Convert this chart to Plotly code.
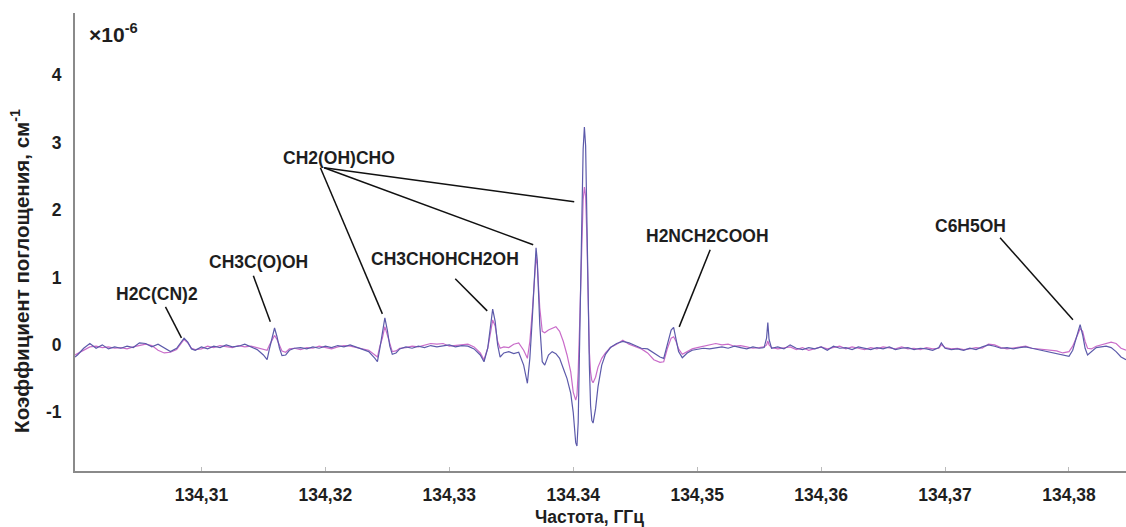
import plotly.graph_objects as go

# Frequency, GHz
freq = [
    134.2998, 134.3000, 134.3005, 134.3010, 134.3015, 134.3020, 134.3025, 134.3030, 134.3035, 134.3040,
    134.3045, 134.3050, 134.3055, 134.3060, 134.3065, 134.3070, 134.3075, 134.3080,
    134.3083, 134.3086, 134.3089, 134.3092, 134.3095,
    134.3100, 134.3105, 134.3110, 134.3115, 134.3120, 134.3125, 134.3130, 134.3135, 134.3140, 134.3145, 134.3150,
    134.3153, 134.3155, 134.3157, 134.3159, 134.3161, 134.3163, 134.3165, 134.3168, 134.3171,
    134.3175, 134.3180, 134.3185, 134.3190, 134.3195, 134.3200, 134.3205, 134.3210, 134.3215, 134.3220, 134.3225, 134.3230, 134.3235,
    134.3240, 134.3242, 134.3244, 134.3246, 134.3248, 134.3250, 134.3252, 134.3254, 134.3257, 134.3260,
    134.3265, 134.3270, 134.3275, 134.3280, 134.3285, 134.3290, 134.3295, 134.3300, 134.3305, 134.3310, 134.3315, 134.3320, 134.3325,
    134.3328, 134.3331, 134.3333, 134.3335, 134.3337, 134.3339, 134.3341, 134.3344, 134.3348, 134.3352,
    134.3356, 134.3360, 134.3363, 134.3365, 134.3367, 134.3369, 134.3370, 134.3371, 134.3373, 134.3375,
    134.3377, 134.3380, 134.3383, 134.3386, 134.3389, 134.3392, 134.3395, 134.3398, 134.3400, 134.3402,
    134.3403, 134.3404, 134.3405, 134.3406, 134.3407, 134.3408, 134.3409, 134.3410, 134.3411, 134.3412,
    134.3413, 134.3414, 134.3415, 134.3416, 134.3418, 134.3420, 134.3423, 134.3426, 134.3430,
    134.3435, 134.3440, 134.3445, 134.3450, 134.3455, 134.3460, 134.3465, 134.3470,
    134.3473, 134.3476, 134.3479, 134.3481, 134.3483, 134.3485, 134.3488, 134.3492, 134.3496,
    134.3500, 134.3505, 134.3510, 134.3515, 134.3520, 134.3525, 134.3530, 134.3535, 134.3540, 134.3545, 134.3550, 134.3554,
    134.3556, 134.3557, 134.3558,
    134.3560, 134.3565, 134.3570, 134.3575, 134.3580, 134.3585, 134.3590, 134.3595, 134.3600, 134.3605,
    134.3610, 134.3615, 134.3620, 134.3625, 134.3630, 134.3635, 134.3640, 134.3645, 134.3650, 134.3655,
    134.3660, 134.3665, 134.3670, 134.3675, 134.3680, 134.3685, 134.3690, 134.3695,
    134.3697,
    134.3700, 134.3705, 134.3710, 134.3715, 134.3720, 134.3725, 134.3730, 134.3735, 134.3740, 134.3745,
    134.3750, 134.3755, 134.3760, 134.3765, 134.3770, 134.3775, 134.3780, 134.3785, 134.3790, 134.3795, 134.3800,
    134.3803, 134.3806, 134.3809, 134.3811, 134.3813, 134.3815, 134.3818, 134.3822, 134.3826, 134.3830,
    134.3834, 134.3838, 134.3842, 134.3846,
]

# Absorption coefficient, x1e-6 cm^-1 (blue spectrum)
absorb_blue = [
    -0.18, -0.15, -0.05, 0.02, -0.05, 0.00, -0.06, -0.03, -0.05, -0.02,
    -0.04, 0.03, 0.02, -0.03, 0.01, -0.04, -0.10, -0.05,
    0.03, 0.10, 0.04, -0.06, -0.08,
    -0.03, -0.06, -0.02, -0.04, 0.00, -0.03, -0.02, 0.01, -0.03, -0.07, -0.15,
    -0.22, -0.05, 0.12, 0.25, 0.12, -0.05, -0.16, -0.15, -0.08,
    -0.05, -0.04, -0.06, -0.03, -0.05, -0.02, -0.04, -0.01, -0.03, 0.00, -0.03, -0.07, -0.10,
    -0.20, -0.25, -0.05, 0.15, 0.40, 0.22, -0.02, -0.14, -0.12, -0.06,
    -0.03, -0.05, -0.02, -0.04, -0.01, -0.03, -0.02, 0.00, -0.03, -0.01, -0.02, -0.06, -0.15,
    -0.25, -0.05, 0.25, 0.53, 0.35, 0.00, -0.18, -0.12, -0.10, -0.13,
    -0.11, -0.30, -0.57, -0.20, 0.40, 1.25, 1.44, 1.25, 0.30, -0.25,
    -0.30, -0.15, -0.10, -0.13, -0.20, -0.35, -0.50, -0.72, -1.00, -1.45,
    -1.50, -1.15, -0.30, 0.80, 1.90, 2.90, 3.23, 2.95, 2.10, 0.80,
    -0.30, -0.90, -1.12, -1.16, -0.95, -0.62, -0.30, -0.14, -0.04,
    0.02, 0.05, 0.03, -0.01, -0.05, -0.06, -0.12, -0.18,
    -0.20, 0.00, 0.22, 0.26, 0.10, -0.10, -0.19, -0.12, -0.08,
    -0.07, -0.05, -0.06, -0.04, -0.03, -0.05, -0.02, -0.04, -0.06, -0.03, -0.05, -0.04,
    0.10, 0.33, 0.08,
    -0.05, -0.03, -0.06, 0.00, -0.05, -0.07, -0.04, -0.06, -0.03, -0.08,
    -0.02, -0.05, -0.04, -0.07, -0.03, -0.05, -0.07, -0.04, -0.06, -0.03,
    -0.07, -0.05, -0.04, -0.07, -0.05, -0.06, -0.08, -0.04,
    0.03,
    -0.05, -0.07, -0.06, -0.08, -0.05, -0.07, -0.03, 0.00, -0.02, -0.05,
    -0.04, -0.06, -0.04, -0.03, -0.05, -0.07, -0.08, -0.10, -0.12, -0.14, -0.17,
    -0.08, 0.12, 0.30, 0.15, -0.05, -0.15, -0.10, -0.04, -0.03, -0.02,
    -0.04, -0.10, -0.18, -0.22,
]

# Absorption coefficient, x1e-6 cm^-1 (pink spectrum)
absorb_pink = [
    -0.15, -0.13, -0.08, -0.03, -0.02, -0.04, -0.03, -0.05, -0.04, -0.06,
    -0.03, -0.01, 0.01, -0.01, -0.08, -0.12, -0.11, -0.07,
    0.00, 0.08, 0.03, -0.05, -0.07,
    -0.06, -0.02, -0.04, -0.01, -0.03, -0.04, -0.01, -0.03, -0.02, -0.04, -0.06,
    -0.08, 0.00, 0.08, 0.14, 0.08, -0.02, -0.09, -0.11, -0.06,
    -0.05, -0.07, -0.04, -0.05, -0.02, -0.04, -0.06, -0.03, -0.01, -0.02, -0.04, -0.05, -0.08,
    -0.15, -0.18, -0.02, 0.10, 0.27, 0.15, 0.00, -0.10, -0.09, -0.05,
    -0.04, -0.02, -0.03, 0.00, 0.02, 0.01, 0.02, -0.02, -0.01, 0.00, 0.01, -0.03, -0.12,
    -0.22, -0.05, 0.15, 0.37, 0.28, 0.05, -0.05, -0.03, -0.04, 0.01,
    0.03, -0.08, -0.20, 0.05, 0.50, 1.15, 1.31, 1.18, 0.55, 0.20,
    0.18, 0.22, 0.24, 0.27, 0.20, 0.05, -0.15, -0.40, -0.70, -0.82,
    -0.75, -0.40, 0.20, 0.95, 1.60, 2.15, 2.34, 2.20, 1.60, 0.60,
    -0.10, -0.40, -0.53, -0.56, -0.48, -0.33, -0.20, -0.12, -0.04,
    0.01, 0.07, 0.01, -0.03, -0.06, -0.12, -0.22, -0.26,
    -0.25, -0.05, 0.10, 0.12, 0.05, -0.06, -0.14, -0.10, -0.06,
    -0.04, -0.02, -0.01, 0.02, 0.00, 0.01, -0.02, -0.01, -0.03, -0.05, -0.04, -0.03,
    0.00, 0.06, 0.00,
    -0.04, -0.06, -0.05, -0.03, -0.07, -0.04, -0.08, -0.05, -0.03, -0.06,
    -0.04, -0.02, -0.06, -0.03, -0.05, -0.07, -0.04, -0.06, -0.03, -0.05,
    -0.06, -0.03, -0.06, -0.05, -0.07, -0.04, -0.06, -0.05,
    0.00,
    -0.04, -0.06, -0.05, -0.07, -0.06, -0.04, -0.05, 0.01, 0.00, -0.04,
    -0.06, -0.05, -0.03, -0.02, -0.05, -0.06, -0.07, -0.08, -0.09, -0.12, -0.10,
    -0.02, 0.10, 0.24, 0.20, 0.05, -0.05, -0.06, -0.02, 0.00, 0.02,
    0.04, 0.02, -0.05, -0.08,
]

x_ticks = [134.31, 134.32, 134.33, 134.34, 134.35, 134.36, 134.37, 134.38]
x_tick_text = ["134,31", "134,32", "134,33", "134.34", "134,35", "134,36", "134,37", "134,38"]
y_ticks = [-1, 0, 1, 2, 3, 4]
y_tick_text = ["-1", "0", "1", "2", "3", "4"]

# label text, label position (freq, value), leader lines [(start), (end)]
labels = [
    ("H2C(CN)2", 134.30645, 0.757, [((134.30710, 0.564), (134.30839, 0.104))]),
    ("CH3C(O)OH", 134.31460, 1.231, [((134.31419, 1.024), (134.31556, 0.341))]),
    ("CH2(OH)CHO", 134.32113, 2.774, [((134.31960, 2.626), (134.32460, 0.460)),
                                      ((134.31990, 2.626), (134.33677, 1.484)),
                                      ((134.31990, 2.626), (134.34008, 2.122))]),
    ("CH3CHOHCH2OH", 134.32968, 1.276, [((134.33048, 0.979), (134.33306, 0.504))]),
    ("H2NCH2COOH", 134.35081, 1.617, [((134.35105, 1.410), (134.34855, 0.267))]),
    ("C6H5OH", 134.37202, 1.766, [((134.37444, 1.588), (134.38032, 0.371))]),
]

assert len(freq) == len(absorb_blue) == len(absorb_pink)

FONT = "Liberation Sans, Arial, sans-serif"
TXT = "#1e1e1e"

fig = go.Figure()
fig.add_trace(go.Scatter(x=freq, y=absorb_pink, mode="lines",
                         line=dict(color="#c96cc9", width=1.2), showlegend=False))
fig.add_trace(go.Scatter(x=freq, y=absorb_blue, mode="lines",
                         line=dict(color="#5c5aaa", width=1.2), showlegend=False))

annotations = []
shapes = []
for text, lx, ly, lines in labels:
    annotations.append(dict(x=lx, y=ly, xref="x", yref="y", text=text, showarrow=False,
                            font=dict(family=FONT, size=17.5, color=TXT, weight="bold"),
                            xanchor="center", yanchor="middle"))
    for (x0, y0), (x1, y1) in lines:
        shapes.append(dict(type="line", xref="x", yref="y", x0=x0, y0=y0, x1=x1, y1=y1,
                           line=dict(color="#111111", width=1.5)))

annotations.append(dict(x=0.0114, y=0.957, xref="paper", yref="paper",
                        text="×10<sup>-6</sup>", showarrow=False, xanchor="left", yanchor="middle",
                        font=dict(family=FONT, size=21, color=TXT, weight="bold")))
annotations.append(dict(x=-0.0523, y=0.437, xref="paper", yref="paper", textangle=-90,
                        text="Коэффициент поглощения, см<sup>-1</sup>", showarrow=False,
                        xanchor="center", yanchor="middle",
                        font=dict(family=FONT, size=20.5, color=TXT, weight="bold")))
annotations.append(dict(x=0.490, y=-0.1004, xref="paper", yref="paper",
                        text="Частота, ГГц", showarrow=False, xanchor="center", yanchor="middle",
                        font=dict(family=FONT, size=17.5, color=TXT, weight="bold")))

fig.update_layout(
    width=1126, height=527,
    margin=dict(l=75, r=0, t=13, b=56),
    paper_bgcolor="white", plot_bgcolor="white",
    annotations=annotations, shapes=shapes,
    xaxis=dict(range=[134.2998, 134.3846], tickvals=x_ticks, ticktext=x_tick_text,
               showgrid=False, zeroline=False, showline=True, linecolor="#8a8a8a", linewidth=2,
               ticks="inside", ticklen=4, tickcolor="#bbbbbb", ticklabelstandoff=7,
               tickfont=dict(family=FONT, size=17.5, color=TXT, weight="bold")),
    yaxis=dict(range=[-1.87, 4.92], tickvals=y_ticks, ticktext=y_tick_text,
               showgrid=False, zeroline=False, showline=True, linecolor="#8a8a8a", linewidth=2,
               ticks="", ticklabelstandoff=8,
               tickfont=dict(family=FONT, size=17.5, color=TXT, weight="bold")),
)

fig.write_html("out.html")
